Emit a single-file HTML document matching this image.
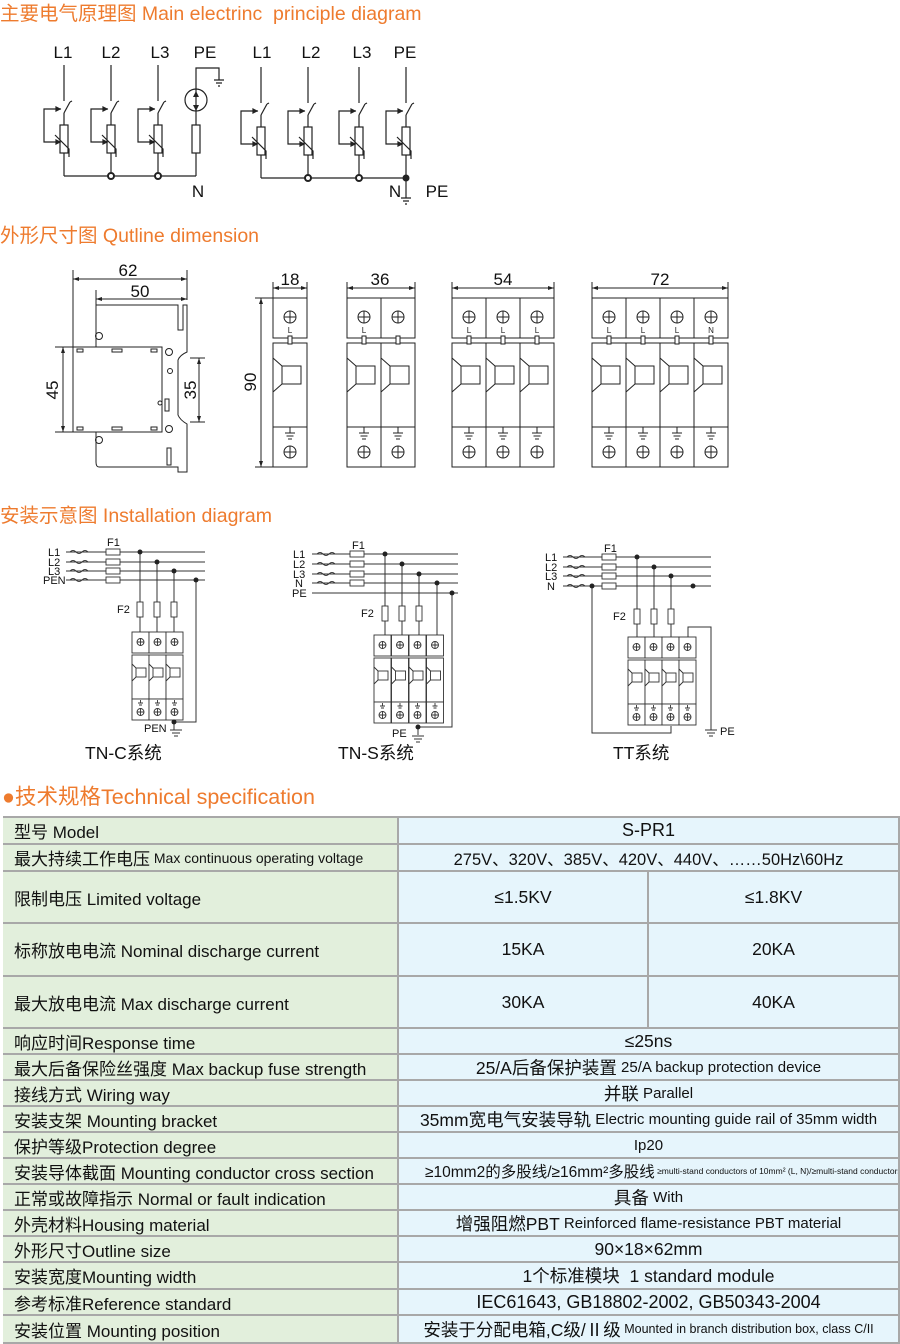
<!DOCTYPE html>
<html><head><meta charset="utf-8">
<style>
html,body{margin:0;padding:0;background:#fff;}
body{width:900px;height:1344px;position:relative;overflow:hidden;font-family:"Liberation Sans","Noto Sans CJK SC",sans-serif;}
.h{position:absolute;color:#ee7b2e;font-size:19.5px;white-space:nowrap;}
svg{position:absolute;left:0;top:0;}
.c{position:absolute;box-sizing:border-box;border-right:2px solid #a8a8a8;border-bottom:2px solid #a8a8a8;display:flex;align-items:center;font-size:17px;color:#111;white-space:nowrap;overflow:hidden;}
.l{background:#e2efdc;padding-left:11px;left:3px;width:396px;}
.r{background:#e6f5fc;justify-content:center;font-size:17.5px;}
.s{font-size:15px;}
</style></head><body>
<div class="h" style="left:0;top:-3px;">主要电气原理图 Main electrinc&nbsp; principle diagram</div>
<div class="h" style="left:0;top:219px;">外形尺寸图 Qutline dimension</div>
<div class="h" style="left:0;top:499px;">安装示意图 Installation diagram</div>
<div class="h" style="left:2px;top:780px;font-size:21.5px;">●技术规格Technical specification</div>

<svg width="900" height="800" viewBox="0 0 900 800" font-family="Liberation Sans, Noto Sans CJK SC, sans-serif">
<defs>
<g id="cell" fill="none" stroke="#222" stroke-width="1.2">
 <line x1="0" y1="0" x2="0" y2="36"/>
 <line x1="0" y1="48" x2="6" y2="37"/><line x1="6" y1="37" x2="8" y2="36"/>
 <line x1="0" y1="48" x2="0" y2="60"/>
 <rect x="-4" y="60" width="8" height="28"/>
 <line x1="0" y1="88" x2="0" y2="111"/>
 <polyline points="-3,44 -20,44 -20,77 -4,77"/>
 <path d="M-4,44 l-4,-2 v4z M-4,77 l-4,-2 v4z" fill="#222"/>
 <polyline points="-9,70 5,84 5,92"/>
</g>
<g id="m" fill="#fff" stroke="#222" stroke-width="1">
 <rect x="0" y="0" width="34" height="40"/>
 <rect x="0" y="45" width="34" height="84"/>
 <rect x="0" y="129" width="34" height="40"/>
 <rect x="15" y="38" width="4" height="8"/>
 <circle cx="17" cy="19" r="6"/><path d="M11,19h12M17,13v12" fill="none"/>
 <circle cx="17" cy="154" r="6"/><path d="M11,154h12M17,148v12" fill="none"/>
 <path d="M17,129v6M12,135h10M13.5,138h7M15,141h4" fill="none"/>
 <rect x="9" y="68" width="19" height="18"/>
 <path d="M0,60 L9,68 M0,94 L9,86" fill="none"/>
</g>
<g id="m2" fill="#fff" stroke="#333" stroke-width="0.9">
 <rect x="0" y="0" width="17" height="21"/>
 <rect x="0" y="23" width="17" height="44"/>
 <rect x="0" y="67" width="17" height="21"/>
 <circle cx="8.5" cy="10" r="3.5"/><path d="M5,10h7M8.5,6.5v7" fill="none"/>
 <circle cx="8.5" cy="80" r="3.5"/><path d="M5,80h7M8.5,76.5v7" fill="none"/>
 <path d="M8.5,68v3M6,71h5M7,73h3" fill="none"/>
 <rect x="4" y="36" width="10" height="9"/>
 <path d="M0,32 L4,36 M0,49 L4,45" fill="none"/>
</g>
<g id="fz" fill="#fff" stroke="#333" stroke-width="0.9"><rect x="0" y="-3" width="14" height="6"/></g>
<g id="f2" fill="#fff" stroke="#333" stroke-width="0.9"><rect x="-3" y="0" width="6" height="15"/></g>
<g id="gnd" stroke="#333" stroke-width="1"><path d="M-6,0h12M-4,3h8M-2,6h4"/></g>
</defs>

<g font-size="17" fill="#111" text-anchor="middle">
<text x="63" y="58">L1</text><text x="111" y="58">L2</text><text x="160" y="58">L3</text><text x="205" y="58">PE</text>
<text x="262" y="58">L1</text><text x="311" y="58">L2</text><text x="362" y="58">L3</text><text x="405" y="58">PE</text>
<text x="198" y="197">N</text><text x="395" y="197">N</text><text x="437" y="197">PE</text>
</g>
<use href="#cell" x="64" y="65"/><use href="#cell" x="111" y="65"/><use href="#cell" x="158" y="65"/>
<g fill="none" stroke="#222" stroke-width="1.2">
 <line x1="64" y1="176" x2="196" y2="176"/>
 <polyline points="219,80 219,68 196,68 196,89"/>
 <circle cx="196" cy="100" r="11"/>
 <line x1="196" y1="89" x2="196" y2="125"/>
 <rect x="192" y="125" width="8" height="28"/>
 <line x1="196" y1="153" x2="196" y2="176"/>
 <path d="M214,80h10M216,83h6M218,86h2"/>
 <line x1="261" y1="178" x2="406" y2="178"/>
 <path d="M406,178v20M401,198h10M403,201h6M405,204h2"/>
</g>
<path d="M196,91l-3,6h6z M196,111l-3,-6h6z" fill="#222"/>
<circle cx="111" cy="176" r="3" fill="#fff" stroke="#222" stroke-width="2"/>
<circle cx="158" cy="176" r="3" fill="#fff" stroke="#222" stroke-width="2"/>
<use href="#cell" x="261" y="67"/><use href="#cell" x="308" y="67"/><use href="#cell" x="359" y="67"/><use href="#cell" x="406" y="67"/>
<circle cx="308" cy="178" r="3" fill="#fff" stroke="#222" stroke-width="2"/>
<circle cx="359" cy="178" r="3" fill="#fff" stroke="#222" stroke-width="2"/>
<circle cx="406" cy="178" r="3.5" fill="#222"/>

<g fill="none" stroke="#222" stroke-width="1">
 <path d="M96,347 V305 H178 V330 H183 V305 H187 V352 Q180,355 178,360 V415 Q180,420 187,424 V472 H178 V467 H99 Q96,467 96,462 V432"/>
 <rect x="73" y="347" width="89" height="85"/>
 <rect x="77" y="349" width="6" height="3"/><rect x="112" y="349" width="10" height="3"/><rect x="151" y="349" width="6" height="3"/>
 <rect x="77" y="427" width="6" height="3"/><rect x="112" y="427" width="10" height="3"/><rect x="151" y="427" width="6" height="3"/>
 <circle cx="99" cy="336" r="3.5"/><circle cx="99" cy="440" r="3.5"/>
 <circle cx="169" cy="352" r="3.5"/><circle cx="169" cy="429" r="3.5"/><circle cx="170" cy="371" r="2.5"/><circle cx="160" cy="403" r="2"/>
 <rect x="165" y="399" width="4" height="12"/><rect x="167" y="448" width="4" height="17"/>
 <path d="M73,270V347 M187,270V300 M96,290V305"/>
 <path d="M73,279H187 M96,299H187 M63,347V432 M55,347H73 M55,432H73 M199,358V422 M190,358H205 M190,422H205"/>
 <path d="M261,298V467 M255,298H273 M255,467H273 M273,282V298 M307,282V298 M273,288H307"/>
 <path d="M347,282V298 M415,282V298 M347,288H415 M452,282V298 M554,282V298 M452,288H554 M592,282V298 M728,282V298 M592,288H728"/>
</g>
<g fill="#222">
 <path d="M73,279l6,-2v4z M187,279l-6,-2v4z M96,299l6,-2v4z M187,299l-6,-2v4z M63,347l-2,6h4z M63,432l-2,-6h4z M199,358l-2,6h4z M199,422l-2,-6h4z M261,298l-2,6h4z M261,467l-2,-6h4z M273,288l6,-2v4z M307,288l-6,-2v4z M347,288l6,-2v4z M415,288l-6,-2v4z M452,288l6,-2v4z M554,288l-6,-2v4z M592,288l6,-2v4z M728,288l-6,-2v4z"/>
</g>
<g font-size="17" fill="#111" text-anchor="middle">
 <text x="128" y="276">62</text><text x="140" y="297">50</text>
 <text x="290" y="285">18</text><text x="380" y="285">36</text><text x="503" y="285">54</text><text x="660" y="285">72</text>
 <text transform="translate(58,390) rotate(-90)">45</text>
 <text transform="translate(196,390) rotate(-90)">35</text>
 <text transform="translate(256,382) rotate(-90)">90</text>
</g>
<use href="#m" x="273" y="298"/>
<use href="#m" x="347" y="298"/><use href="#m" x="381" y="298"/>
<use href="#m" x="452" y="298"/><use href="#m" x="486" y="298"/><use href="#m" x="520" y="298"/>
<use href="#m" x="592" y="298"/><use href="#m" x="626" y="298"/><use href="#m" x="660" y="298"/><use href="#m" x="694" y="298"/>
<g font-size="8" fill="#222" text-anchor="middle">
 <text x="290" y="333">L</text><text x="364" y="333">L</text><text x="469" y="333">L</text><text x="503" y="333">L</text><text x="537" y="333">L</text>
 <text x="609" y="333">L</text><text x="643" y="333">L</text><text x="677" y="333">L</text><text x="711" y="333">N</text>
</g>

<g fill="none" stroke="#333" stroke-width="1">
 <path d="M66,552H205 M66,562H205 M66,571H205 M66,580H205"/>
 <path d="M140,552V632 M157,562V632 M174,571V632 M196,580V722 H174 V730"/>
 <path d="M70,552q3,-3 6,0t6,0t6,0 M70,562q3,-3 6,0t6,0t6,0 M70,571q3,-3 6,0t6,0t6,0 M70,580q3,-3 6,0t6,0t6,0"/>
</g>
<use href="#fz" x="106" y="552"/><use href="#fz" x="106" y="562"/><use href="#fz" x="106" y="571"/><use href="#fz" x="106" y="580"/>
<use href="#f2" x="140" y="602"/><use href="#f2" x="157" y="602"/><use href="#f2" x="174" y="602"/>
<use href="#m2" x="132" y="632"/><use href="#m2" x="149" y="632"/><use href="#m2" x="166" y="632"/>
<use href="#gnd" x="176" y="730"/>
<g fill="#222"><circle cx="140" cy="552" r="2.5"/><circle cx="157" cy="562" r="2.5"/><circle cx="174" cy="571" r="2.5"/><circle cx="196" cy="580" r="2.5"/><circle cx="174" cy="722" r="2.5"/></g>
<g font-size="11" fill="#111">
 <text x="48" y="556">L1</text><text x="48" y="566">L2</text><text x="48" y="575">L3</text><text x="43" y="584">PEN</text>
 <text x="107" y="546">F1</text><text x="117" y="613">F2</text><text x="144" y="732">PEN</text>
</g>
<text x="85" y="759" font-size="17.5" fill="#111">TN-C系统</text>

<g fill="none" stroke="#333" stroke-width="1">
 <path d="M312,554H458 M312,564H458 M312,574H458 M312,583H458 M312,593H458"/>
 <path d="M385,554V635 M402,564V635 M419,574V635 M437,583V635 M452,593V727 H418 V735"/>
 <path d="M317,554q3,-3 6,0t6,0t6,0 M317,564q3,-3 6,0t6,0t6,0 M317,574q3,-3 6,0t6,0t6,0 M317,583q3,-3 6,0t6,0t6,0"/>
</g>
<use href="#fz" x="350" y="554"/><use href="#fz" x="350" y="564"/><use href="#fz" x="350" y="574"/><use href="#fz" x="350" y="583"/>
<use href="#f2" x="385" y="606"/><use href="#f2" x="402" y="606"/><use href="#f2" x="419" y="606"/>
<use href="#m2" x="374" y="635"/><use href="#m2" x="391.5" y="635"/><use href="#m2" x="409" y="635"/><use href="#m2" x="426.5" y="635"/>
<use href="#gnd" x="418" y="736"/>
<g fill="#222"><circle cx="385" cy="554" r="2.5"/><circle cx="402" cy="564" r="2.5"/><circle cx="419" cy="574" r="2.5"/><circle cx="437" cy="583" r="2.5"/><circle cx="452" cy="593" r="2.5"/><circle cx="418" cy="727" r="2.5"/></g>
<g font-size="11" fill="#111">
 <text x="293" y="558">L1</text><text x="293" y="568">L2</text><text x="293" y="578">L3</text><text x="295" y="587">N</text><text x="292" y="597">PE</text>
 <text x="352" y="549">F1</text><text x="361" y="617">F2</text><text x="392" y="737">PE</text>
</g>
<text x="338" y="759" font-size="17.5" fill="#111">TN-S系统</text>

<g fill="none" stroke="#333" stroke-width="1">
 <path d="M563,557H711 M563,567H711 M563,576H711 M563,586H711"/>
 <path d="M637,557V637 M654,567V637 M671,576V637 M592,586V733 H671 V726 M688,637V627 H711 V730"/>
 <path d="M567,557q3,-3 6,0t6,0t6,0 M567,567q3,-3 6,0t6,0t6,0 M567,576q3,-3 6,0t6,0t6,0 M567,586q3,-3 6,0t6,0t6,0"/>
</g>
<use href="#fz" x="602" y="557"/><use href="#fz" x="602" y="567"/><use href="#fz" x="602" y="576"/><use href="#fz" x="602" y="586"/>
<use href="#f2" x="637" y="609"/><use href="#f2" x="654" y="609"/><use href="#f2" x="671" y="609"/>
<use href="#m2" x="628" y="637"/><use href="#m2" x="645" y="637"/><use href="#m2" x="662" y="637"/><use href="#m2" x="679" y="637"/>
<use href="#gnd" x="711" y="730"/>
<g fill="#222"><circle cx="637" cy="557" r="2.5"/><circle cx="654" cy="567" r="2.5"/><circle cx="671" cy="576" r="2.5"/><circle cx="693" cy="586" r="2.5"/><circle cx="592" cy="586" r="2.5"/></g>
<g font-size="11" fill="#111">
 <text x="545" y="561">L1</text><text x="545" y="571">L2</text><text x="545" y="580">L3</text><text x="547" y="590">N</text>
 <text x="604" y="552">F1</text><text x="613" y="620">F2</text><text x="720" y="735">PE</text>
</g>
<text x="613" y="759" font-size="17.5" fill="#111">TT系统</text>
</svg>

<div style="position:absolute;left:3px;top:816px;width:897px;height:2px;background:#a8a8a8;"></div>
<div style="position:absolute;left:3px;top:816px;width:2px;height:528px;background:#a8a8a8;"></div>

<div class="c l" style="top:818px;height:27px;">型号 Model</div>
<div class="c r" style="left:399px;width:501px;top:818px;height:27px;font-size:18px;">S-PR1</div>
<div class="c l" style="top:845px;height:27px;">最大持续工作电压 <span style="font-size:14px;">&nbsp;Max continuous operating voltage</span></div>
<div class="c r" style="left:399px;width:501px;top:845px;height:27px;font-size:16.5px;">275V、320V、385V、420V、440V、……50Hz\60Hz</div>
<div class="c l" style="top:872px;height:52px;">限制电压 Limited voltage</div>
<div class="c r" style="left:399px;width:250px;top:872px;height:52px;">≤1.5KV</div>
<div class="c r" style="left:649px;width:251px;top:872px;height:52px;">≤1.8KV</div>
<div class="c l" style="top:924px;height:53px;">标称放电电流 Nominal discharge current</div>
<div class="c r" style="left:399px;width:250px;top:924px;height:53px;">15KA</div>
<div class="c r" style="left:649px;width:251px;top:924px;height:53px;">20KA</div>
<div class="c l" style="top:977px;height:52px;">最大放电电流 Max discharge current</div>
<div class="c r" style="left:399px;width:250px;top:977px;height:52px;">30KA</div>
<div class="c r" style="left:649px;width:251px;top:977px;height:52px;">40KA</div>
<div class="c l" style="top:1029px;height:26px;">响应时间Response time</div>
<div class="c r" style="left:399px;width:501px;top:1029px;height:26px;">≤25ns</div>
<div class="c l" style="top:1055px;height:26px;">最大后备保险丝强度 Max backup fuse strength</div>
<div class="c r" style="left:399px;width:501px;top:1055px;height:26px;">25/A后备保护装置 <span class="s">&nbsp;25/A backup protection device</span></div>
<div class="c l" style="top:1081px;height:26px;">接线方式 Wiring way</div>
<div class="c r" style="left:399px;width:501px;top:1081px;height:26px;">并联 <span class="s">&nbsp;Parallel</span></div>
<div class="c l" style="top:1107px;height:26px;">安装支架 Mounting bracket</div>
<div class="c r" style="left:399px;width:501px;top:1107px;height:26px;">35mm宽电气安装导轨 <span class="s">&nbsp;Electric mounting guide rail of 35mm width</span></div>
<div class="c l" style="top:1133px;height:26px;">保护等级Protection degree</div>
<div class="c r" style="left:399px;width:501px;top:1133px;height:26px;font-size:15px;">Ip20</div>
<div class="c l" style="top:1159px;height:26px;">安装导体截面 Mounting conductor cross section</div>
<div class="c r" style="left:399px;width:501px;top:1159px;height:26px;font-size:15.5px;justify-content:flex-start;padding-left:26px;">≥10mm2的多股线/≥16mm²多股线 <span style="font-size:8.5px;">&nbsp;≥multi-stand conductors of 10mm² (L, N)/≥multi-stand conductors of16mm²(PE)</span></div>
<div class="c l" style="top:1185px;height:26px;">正常或故障指示 Normal or fault indication</div>
<div class="c r" style="left:399px;width:501px;top:1185px;height:26px;">具备 <span class="s">&nbsp;With</span></div>
<div class="c l" style="top:1211px;height:26px;">外壳材料Housing material</div>
<div class="c r" style="left:399px;width:501px;top:1211px;height:26px;">增强阻燃PBT <span class="s">&nbsp;Reinforced flame-resistance PBT material</span></div>
<div class="c l" style="top:1237px;height:26px;">外形尺寸Outline size</div>
<div class="c r" style="left:399px;width:501px;top:1237px;height:26px;">90×18×62mm</div>
<div class="c l" style="top:1263px;height:27px;">安装宽度Mounting width</div>
<div class="c r" style="left:399px;width:501px;top:1263px;height:27px;">1个标准模块&nbsp; 1 standard module</div>
<div class="c l" style="top:1290px;height:26px;">参考标准Reference standard</div>
<div class="c r" style="left:399px;width:501px;top:1290px;height:26px;font-size:18px;">IEC61643, GB18802-2002, GB50343-2004</div>
<div class="c l" style="top:1316px;height:28px;">安装位置 Mounting position</div>
<div class="c r" style="left:399px;width:501px;top:1316px;height:28px;">安装于分配电箱,C级/Ⅱ级 <span style="font-size:12.5px;">&nbsp;Mounted in branch distribution box, class C/II</span></div>
</body></html>
